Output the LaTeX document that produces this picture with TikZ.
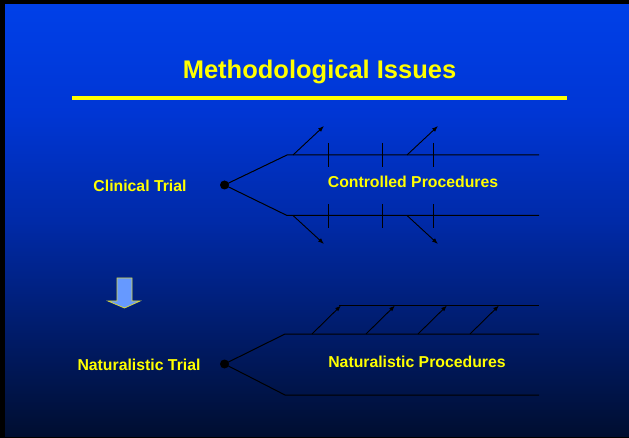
\documentclass[tikz,border=0pt]{standalone}
\usepackage{fontspec}
\setmainfont{Liberation Sans}
\usetikzlibrary{arrows.meta}

\definecolor{bgA}{RGB}{0,64,232}
\definecolor{bgB}{RGB}{0,54,212}
\definecolor{bgC}{RGB}{0,42,168}
\definecolor{bgD}{RGB}{0,28,108}
\definecolor{bgE}{RGB}{0,14,48}
\definecolor{slideyellow}{RGB}{255,255,0}
\definecolor{arrowfill}{RGB}{102,153,255}
\definecolor{arrowedge}{RGB}{214,214,60}

\pgfdeclareverticalshading{slidebg}{100bp}{%
  color(0bp)=(bgE); color(25bp)=(bgE); color(37.5bp)=(bgD);
  color(50bp)=(bgC); color(62.5bp)=(bgB); color(75bp)=(bgA); color(100bp)=(bgA)}

\tikzset{
  label text/.style={text=slideyellow, font=\bfseries\fontsize{15.8}{18}\selectfont, anchor=base, inner sep=0pt},
  title text/.style={text=slideyellow, font=\bfseries\fontsize{25.5}{30}\selectfont, anchor=base, inner sep=0pt},
  bone/.style={draw=black, line width=1pt},
  rib/.style={draw=black, line width=0.9pt, -{Latex[length=6pt,width=4.5pt]}},
  tick/.style={draw=black, line width=0.9pt},
  headdot/.style={circle, fill=black, inner sep=0pt, minimum size=9pt},
}

\begin{document}
\begin{tikzpicture}[x=1pt, y=-1pt]
  % frame and gradient background
  \fill[black] (0,0) rectangle (629,438);
  \shade[shading=slidebg] (5,5) rectangle (629,436);
  \useasboundingbox (0,0) rectangle (629,438);

  % title and rule
  \node[title text] (title) at (319.5,79) {Methodological Issues};
  \fill[slideyellow] (72,96) rectangle (567,100);

  % --- clinical trial ---
  \node[label text] (clin) at (140,192) {Clinical Trial};
  \node[headdot] (cdot) at (224.5,185) {};
  \coordinate (cu0) at (287,155);
  \coordinate (cu1) at (539,155);
  \coordinate (cl0) at (287,215.5);
  \coordinate (cl1) at (539,215.5);
  \draw[bone] (cdot.center) -- (cu0) -- (cu1);
  \draw[bone] (cdot.center) -- (cl0) -- (cl1);
  \node[label text] (cproc) at (413,188) {Controlled Procedures};

  % cross ticks
  \foreach \x in {328.5,382,433.5} {
    \draw[tick] (\x,143) -- (\x,167);
    \draw[tick] (\x,204) -- (\x,228);
  }
  % branching arrows
  \coordinate (ua1) at (293,155);
  \coordinate (ua2) at (407,155);
  \coordinate (ub1) at (324,126);
  \coordinate (ub2) at (438,126);
  \coordinate (la1) at (293,215.5);
  \coordinate (la2) at (407,215.5);
  \coordinate (lb1) at (324,244);
  \coordinate (lb2) at (438,244);
  \draw[rib] (ua1) -- (ub1);
  \draw[rib] (ua2) -- (ub2);
  \draw[rib] (la1) -- (lb1);
  \draw[rib] (la2) -- (lb2);

  % transition arrow
  \filldraw[fill=arrowfill, draw=arrowedge, line width=0.8pt]
    (117,278) -- (132,278) -- (132,301) -- (140,301) -- (124.5,308)
    -- (108,301) -- (117,301) -- cycle;

  % --- naturalistic trial ---
  \node[label text] (nat) at (139,370) {Naturalistic Trial};
  \node[headdot] (ndot) at (224.5,364) {};
  \coordinate (nu0) at (285,334);
  \coordinate (nu1) at (539,334);
  \coordinate (nl0) at (285,395);
  \coordinate (nl1) at (539,395);
  \coordinate (nt0) at (339,306);
  \coordinate (nt1) at (539,306);
  \draw[bone] (ndot.center) -- (nu0) -- (nu1);
  \draw[bone] (ndot.center) -- (nl0) -- (nl1);
  \draw[bone] (nt0) -- (nt1);
  \node[label text] (nproc) at (417,367) {Naturalistic Procedures};

  \coordinate (na1) at (312,334);  \coordinate (nb1) at (341,305.5);
  \coordinate (na2) at (366,334);  \coordinate (nb2) at (395,305.5);
  \coordinate (na3) at (418,334);  \coordinate (nb3) at (447,305.5);
  \coordinate (na4) at (470,334);  \coordinate (nb4) at (499,305.5);
  \draw[rib] (na1) -- (nb1);
  \draw[rib] (na2) -- (nb2);
  \draw[rib] (na3) -- (nb3);
  \draw[rib] (na4) -- (nb4);
\end{tikzpicture}
\end{document}
